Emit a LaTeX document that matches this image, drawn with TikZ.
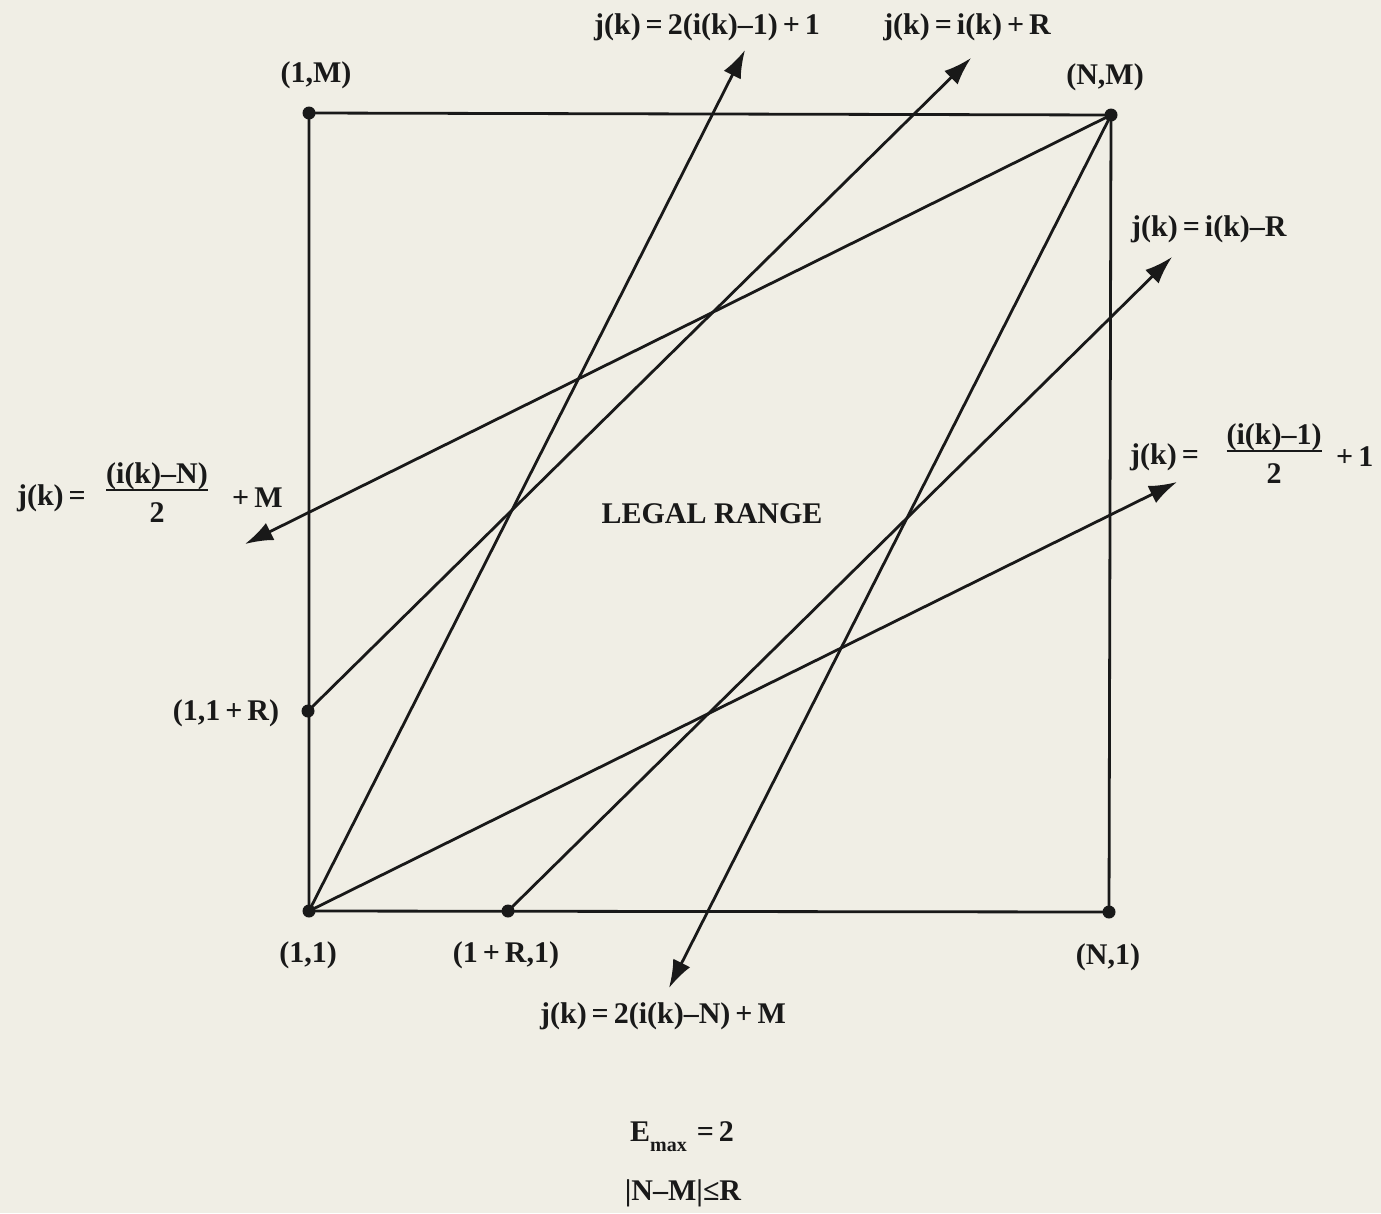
\documentclass[tikz,border=0pt]{standalone}
\usepackage{fontspec}
\setmainfont{Liberation Serif}
\usetikzlibrary{arrows.meta}
\definecolor{paper}{RGB}{240,238,229}
\definecolor{ink}{RGB}{25,25,25}
\tikzset{
  dot/.style={circle,fill=ink,inner sep=0pt,minimum size=13pt},
  edge/.style={draw=ink,line width=2.8pt},
  arr/.style={edge,-{Latex[length=28pt,width=19pt]}},
  lbl/.style={text=ink,font=\fontsize{30}{36}\selectfont\bfseries,inner sep=0pt}
}
\newcommand{\frc}[1]{\begin{tabular}[c]{@{}c@{}}#1\\[-6pt]\noalign{\hrule height 1.8pt}\rule{0pt}{32pt}2\end{tabular}}
\begin{document}
\begin{tikzpicture}[x=1pt,y=-1pt]
\fill[paper] (0,0) rectangle (1381,1213);
\useasboundingbox (0,0) rectangle (1381,1213);
% points
\node[dot] (p11) at (309,911) {};
\node[dot] (pN1) at (1109,912) {};
\node[dot] (pNM) at (1111,115) {};
\node[dot] (p1M) at (309,113) {};
\node[dot] (p1R) at (308,711) {};
\node[dot] (pR1) at (508,911) {};
% arrow tips
\coordinate (t1) at (745,50);
\coordinate (t2) at (971,58);
\coordinate (t3) at (245,544);
\coordinate (t4) at (1172,257);
\coordinate (t5) at (1177,482);
\coordinate (t6) at (669,988);
% box
\draw[edge] (p11.center) -- (pN1.center) -- (pNM.center) -- (p1M.center) -- cycle;
% lines
\draw[arr] (p11.center) -- (t1);
\draw[arr] (p1R.center) -- (t2);
\draw[arr] (pNM.center) -- (t3);
\draw[arr] (pR1.center) -- (t4);
\draw[arr] (p11.center) -- (t5);
\draw[arr] (pNM.center) -- (t6);
% labels
\node[lbl] (l1M) at (316,75) {(1,M)};
\node[lbl] (lNM) at (1105,77) {(N,M)};
\node[lbl] (l11) at (308,955) {(1,1)};
\node[lbl] (lR1) at (506,955) {(1\,+\,R,1)};
\node[lbl] (lN1) at (1108,957) {(N,1)};
\node[lbl] (l1R) at (226,713) {(1,1\,+\,R)};
\node[lbl] (eq1) at (707,27) {j(k)\,=\,2(i(k)–1)\,+\,1};
\node[lbl] (eq2) at (967,27) {j(k)\,=\,i(k)\,+\,R};
\node[lbl,anchor=west] (eq4) at (1131,229) {j(k)\,=\,i(k)–R};
\node[lbl,anchor=west] (eq5a) at (1130,457) {j(k)\,=};
\node[lbl] (eq5b) at (1274,457) {\frc{(i(k)–1)}};
\node[lbl,anchor=west] (eq5c) at (1336,457) {+\,1};
\node[lbl,anchor=east] (eq3a) at (86,498) {j(k)\,=};
\node[lbl] (eq3b) at (157,496) {\frc{(i(k)–N)}};
\node[lbl,anchor=west] (eq3c) at (232,498) {+\,M};
\node[lbl] (eq6) at (663,1016) {j(k)\,=\,2(i(k)–N)\,+\,M};
\node[lbl] (legal) at (712,514) {LEGAL RANGE};
\node[lbl] (emax) at (682,1137) {E\raisebox{-10pt}{\fontsize{20}{24}\selectfont max}\,\,=\,2};
\node[lbl] (cond) at (683,1193) {|N–M|≤R};
\end{tikzpicture}
\end{document}
